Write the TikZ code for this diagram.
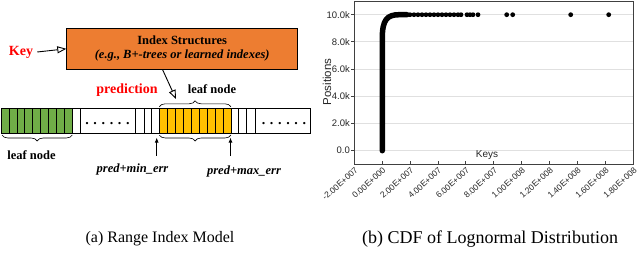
\documentclass[tikz,border=0pt]{standalone}
\usepackage{fontspec}
\setmainfont{Liberation Serif}
\newfontfamily\plotfont{Liberation Sans}
\definecolor{keyred}{rgb}{1, 0, 0}
\definecolor{idxorange}{RGB}{237, 125, 49}
\definecolor{leafgreen}{RGB}{112, 173, 71}
\definecolor{leafyellow}{RGB}{255, 192, 0}
\usetikzlibrary{arrows.meta,positioning}
\usetikzlibrary{decorations.pathreplacing,calc}

\begin{document}
\begin{tikzpicture}[x=1pt,y=1pt,yscale=-1,xscale=1,
	every node/.style={inner sep=0pt},
	redlabel/.style={color=keyred, font=\fontsize{14}{16}\selectfont\bfseries},
	boldlabel/.style={font=\fontsize{12.5}{14}\selectfont\bfseries},
	errlabel/.style={font=\fontsize{12.5}{14}\selectfont\bfseries\itshape},
	idxbox/.style={draw=black, fill=idxorange, line width=0.8, minimum width=231, minimum height=41, align=center, font=\fontsize{12.5}{14}\selectfont\bfseries},
	cell/.style={draw=black, line width=0.6},
	openarrow/.style={-{Triangle[open, length=9pt, width=7pt]}, line width=0.9},
	uparrow/.style={-{Latex[length=5pt, width=4pt]}, line width=1},
	brace/.style={decorate, decoration={brace, amplitude=6pt}, line width=0.6},
	dotrow/.style={font=\fontsize{14}{14}\selectfont\bfseries},
	plotframe/.style={draw=black!75, line width=1},
	gridline/.style={draw=black!12, line width=0.8},
	ticklabel/.style={font=\plotfont\fontsize{9.5}{10}\selectfont, text=black!85},
	captext/.style={font=\fontsize{18}{20}\selectfont}]
	\useasboundingbox (0,0) rectangle (640,254);
	
	%Shape: Index box
	\node [idxbox] (idx) at (182.2,48.8) {Index Structures\\ \itshape (e.g., B+-trees or learned indexes)};
	% Text Node
	\node [redlabel] (key) at (21,52) {Key};
	\draw [openarrow] ([xshift=4]key.east) -- (idx.west);
	
	%Shape: Array
	\draw [cell] (1,108.3) rectangle (310,133.5);
	\foreach \i in {0,...,8} {
		\draw [cell, fill=leafgreen] ({1+7.92*\i},108.3) rectangle ++(7.92,25.2);
		\draw [cell, fill=leafyellow] ({159.2+7.98*\i},108.3) rectangle ++(7.98,25.2);
	}
	\foreach \x in {80,135.7,144,151.7,238.3,246.7,255}
		\draw [cell] (\x,108.3) -- (\x,133.5);
	% Text Node
	\node [dotrow] (gapl) at (107.5,123.5) {. . . . . .};
	\node [dotrow] (gapr) at (284,123.5) {. . . . . .};
	
	%Braces
	\draw [brace] (159.3,106.8) -- (230.9,106.8);
	\draw [brace] (72.3,135) -- (2,135);
	\draw [brace] (230.9,135) -- (159.3,135);
	
	% Text Node
	\node [redlabel] (pred) at (127,90) {prediction};
	\node [boldlabel] (leaftop) at (212,89.5) {leaf node};
	\node [boldlabel] (leafbot) at (31.5,155) {leaf node};
	\node [errlabel] (minerr) at (132.5,169.5) {pred+min\_err};
	\node [errlabel] (maxerr) at (244,171) {pred+max\_err};
	
	%Arrows into the array
	\coordinate (predtip) at (176,99);
	\coordinate (minpos) at (156.7,137.5);
	\coordinate (maxpos) at (230.5,137.5);
	\draw [openarrow] ([xshift=96.3]idx.south west) -- (predtip);
	\draw [uparrow, shorten <=8pt] (minerr.north -| minpos) -- (minpos);
	\draw [uparrow, shorten <=9pt] (maxerr.north -| maxpos) -- (maxpos);
	
	%Shape: CDF plot
	\foreach \lbl [count=\i from 0] in {0.0,2.0k,4.0k,6.0k,8.0k,10.0k} {
		\draw [gridline] (354.3,{150.7-27.2*\i}) -- (633.3,{150.7-27.2*\i});
		\draw [plotframe] (351.3,{150.7-27.2*\i}) -- (354.3,{150.7-27.2*\i});
		\node [ticklabel, anchor=east] (ylbl\i) at (350,{150.7-27.2*\i}) {\lbl};
	}
	\foreach \lbl [count=\i from 0] in {-2.00E+007,0.00E+000,2.00E+007,4.00E+007,6.00E+007,8.00E+007,1.00E+008,1.20E+008,1.40E+008,1.60E+008,1.80E+008} {
		\draw [plotframe] ({354.3+27.9*\i},164) -- ({354.3+27.9*\i},161);
		\node [ticklabel, font=\plotfont\fontsize{8.5}{9}\selectfont, anchor=east, rotate=42] (xlbl\i) at ({356.5+27.9*\i},169) {\lbl};
	}
	\draw [plotframe] (354.3,1.5) rectangle (633.3,164);
	
	%Data
	\draw [line width=5.5, line cap=round] (382.3,150.7) -- (382.3,38) .. controls (382.3,20) and (387,14.7) .. (399,14.7) -- (407,14.7);
	\foreach \k in {410,414,...,458,461,467,470,473,478,506.7,512.7,570.7,608.7}
		\fill (\k,14.7) circle (2.4);
	
	% Text Node
	\node [ticklabel, font=\plotfont\fontsize{11.5}{12}\selectfont, rotate=90] (ylab) at (327,82) {Positions};
	\node [ticklabel, font=\plotfont\fontsize{10}{11}\selectfont] (xlab) at (487,155.5) {Keys};
	
	%Captions
	\node [captext, font=\fontsize{16}{18}\selectfont] (capa) at (160,239) {(a) Range Index Model};
	\node [captext] (capb) at (490,239) {(b) CDF of Lognormal Distribution};
	
\end{tikzpicture}
\end{document}
